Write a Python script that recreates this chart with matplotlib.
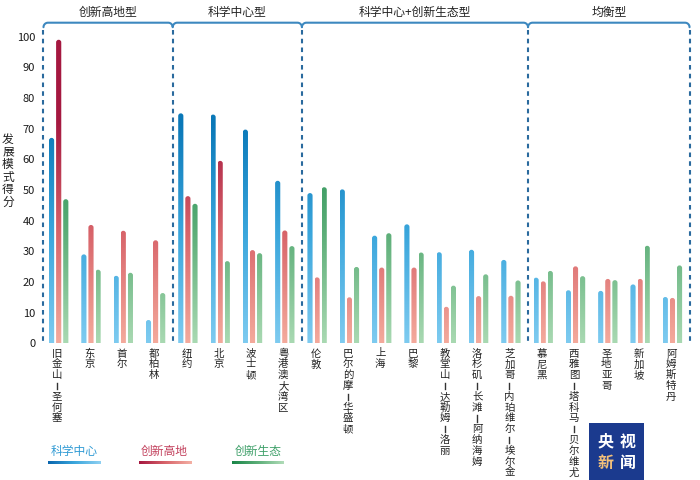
import numpy as np
import matplotlib
matplotlib.use("Agg")
import matplotlib.pyplot as plt
from matplotlib.colors import LinearSegmentedColormap, Normalize
from matplotlib.patches import FancyBboxPatch, Rectangle
from matplotlib.lines import Line2D

plt.rcParams['font.family'] = ['Noto Sans CJK SC', 'DejaVu Sans']

# ---------------- data ----------------
cities = ['旧金山-圣何塞', '东京', '首尔', '都柏林',
          '纽约', '北京', '波士顿', '粤港澳大湾区',
          '伦敦', '巴尔的摩-华盛顿', '上海', '巴黎', '教堂山-达勒姆-洛丽',
          '洛杉矶-长滩-阿纳海姆', '芝加哥-内珀维尔-埃尔金',
          '慕尼黑', '西雅图-塔科马-贝尔维尤', '圣地亚哥', '新加坡', '阿姆斯特丹']
groups = ['创新高地型', '科学中心型', '科学中心+创新生态型', '均衡型']
group_sizes = [4, 4, 7, 5]
science = [67, 29, 22, 7.6, 75, 74.6, 69.7, 53, 49, 50.2, 35.1, 38.8, 29.7, 30.5, 27.2,
           21.4, 17.3, 17.1, 19.2, 15.1]
innovation = [99, 38.6, 36.7, 33.6, 48, 59.5, 30.4, 36.8, 21.5, 15, 24.7, 24.7, 11.9, 15.4, 15.5,
              20.2, 25.1, 21, 21, 14.8]
ecology = [47, 24, 23, 16.4, 45.5, 26.8, 29.4, 31.7, 50.9, 24.9, 35.9, 29.6, 18.8, 22.5, 20.5,
           23.6, 21.9, 20.6, 31.8, 25.4]
yticks = list(range(0, 101, 10))
legend_labels = ['科学中心', '创新高地', '创新生态']
ylabel = '发展模式得分'

# ---------------- styling ----------------
cmap_blue = LinearSegmentedColormap.from_list('b', ['#7ecbf0', '#3aa6dc', '#0a78b8'])
cmap_red = LinearSegmentedColormap.from_list('r', ['#f4aa9c', '#d8646a', '#a51840'])
cmap_green = LinearSegmentedColormap.from_list('g', ['#a9d9b2', '#5cae78', '#1f8c50'])
norm = Normalize(0, 72, clip=True)

W, H = 700, 480
fig = plt.figure(figsize=(7, 4.8), dpi=100)
fig.patch.set_facecolor('white')
x0px, x1px = 39.3, 691.8
y0px, y1px = 343.3, 36.7
ax = fig.add_axes([x0px / W, (H - y0px) / H, (x1px - x0px) / W, (y0px - y1px) / H])
ax.set_xlim(-0.6, 19.6)
ax.set_ylim(0, 100)
for s in ax.spines.values():
    s.set_visible(False)

px_per_x = (x1px - x0px) / 20.2
px_per_y = (y0px - y1px) / 100.0
asp = px_per_x / px_per_y

bw = 0.16
offs = [-0.22, 0.0, 0.22]
series = [(science, cmap_blue), (innovation, cmap_red), (ecology, cmap_green)]
grad_res = 200
for (vals, cm), off in zip(series, offs):
    for i, v in enumerate(vals):
        xl = i + off - bw / 2
        patch = FancyBboxPatch((xl, -2), bw, v + 2,
                               boxstyle=f"round,pad=0,rounding_size={bw/2}",
                               mutation_aspect=asp, facecolor='none', edgecolor='none')
        ax.add_patch(patch)
        g = np.linspace(0, v, grad_res).reshape(-1, 1)
        im = ax.imshow(cm(norm(g)), extent=(xl, xl + bw, 0, v), origin='lower',
                       aspect='auto', interpolation='bilinear', zorder=2)
        im.set_clip_path(patch)
ax.set_aspect('auto')
ax.set_xlim(-0.6, 19.6)
ax.set_ylim(0, 100)

ax.set_yticks(yticks)
ax.set_xticks([])
ax.tick_params(axis='y', length=0, labelsize=8, labelcolor='#1a1a1a', pad=3)

# y label (stacked characters)
fig.text(8 / W, 1 - 171 / H, '\n'.join(ylabel), ha='center', va='center',
         fontsize=8.5, color='#222222', linespacing=0.95)

# x labels (each character placed individually, hyphen drawn as a short vertical stroke)
step_px = 10.8
for i, c in enumerate(cities):
    xc = x0px + (i + 0.6) * px_per_x - 1.5
    for k, ch in enumerate(c):
        yc = 353.5 + k * step_px
        if ch == '-':
            fig.add_artist(Line2D([xc / W, xc / W], [1 - (yc - 3.2) / H, 1 - (yc + 3.2) / H],
                                  transform=fig.transFigure, color='#333333', lw=1.0))
        else:
            fig.text(xc / W, 1 - yc / H, ch, ha='center', va='center', fontsize=7.5,
                     color='#222222')

# brackets & dashed separators
bounds = [-0.47]
acc = 0
for n in group_sizes:
    acc += n
    bounds.append(acc - 1 + 0.53)
top = (y0px - 22.7) / px_per_y
rx = 4.5 / px_per_x
ry = 4.5 / px_per_y
bx, by = [], []
for k, b in enumerate(bounds):
    if k > 0:
        t = np.linspace(np.pi / 2, 0, 12)
        bx += list(b - rx + rx * np.cos(t))
        by += list(top - ry + ry * np.sin(t))
    if k < len(bounds) - 1:
        t = np.linspace(np.pi, np.pi / 2, 12)
        bx += list(b + rx + rx * np.cos(t))
        by += list(top - ry + ry * np.sin(t))
ax.plot(bx, by, color='#3d88bf', lw=1.5, clip_on=False, solid_capstyle='round', zorder=3)
for b in bounds:
    ax.plot([b, b], [top - ry - 0.8, -0.6], color='#2a6a9e', lw=1.5,
            ls=(0, (2.2, 2.0)), clip_on=False, zorder=3)

for k, gname in enumerate(groups):
    mid = (bounds[k] + bounds[k + 1]) / 2
    ax.text(mid, (y0px - 12.7) / px_per_y, gname, ha='center', va='center',
            fontsize=8.5, color='#222222', clip_on=False)

# legend
leg_colors = ['#2f9ad4', '#c2405c', '#3d9f68']
leg_grads = [['#0a66ae', '#3aa6dc', '#8fd0f2'],
             ['#a51840', '#d8646a', '#f4b0a4'],
             ['#1a8648', '#5cae78', '#b0dcb8']]
leg_text_x = [73.7, 164.2, 258.3]
leg_bar = [(48.3, 100.7), (139.3, 191.7), (232.3, 283.3)]
for lab, col, gc, tx, (bx0, bx1) in zip(legend_labels, leg_colors, leg_grads, leg_text_x, leg_bar):
    fig.text(tx / W, 1 - 451 / H, lab, ha='center', va='center', fontsize=8.5, color=col)
    lax = fig.add_axes([bx0 / W, (H - 464.2) / H, (bx1 - bx0) / W, 3.4 / H])
    lcm = LinearSegmentedColormap.from_list('l', gc)
    lax.imshow(lcm(np.linspace(0, 1, 100)).reshape(1, -1, 4), aspect='auto',
               interpolation='bilinear')
    lax.axis('off')

# watermark logo
fig.patches.append(Rectangle((589 / W, 0), 55 / W, 57 / H, transform=fig.transFigure,
                             facecolor='#1b3a8e', edgecolor='none', zorder=5))
logo = [('央', 605.8, 441.7, 'white'), ('视', 627.5, 441.7, 'white'),
        ('新', 605.8, 463.0, '#f2c07a'), ('闻', 627.5, 463.0, 'white')]
for ch, lx, ly, lc in logo:
    fig.text(lx / W, 1 - ly / H, ch, ha='center', va='center', fontsize=11.5,
             color=lc, fontweight='bold', zorder=6)

fig.savefig('out.png', dpi=100, facecolor='white')
